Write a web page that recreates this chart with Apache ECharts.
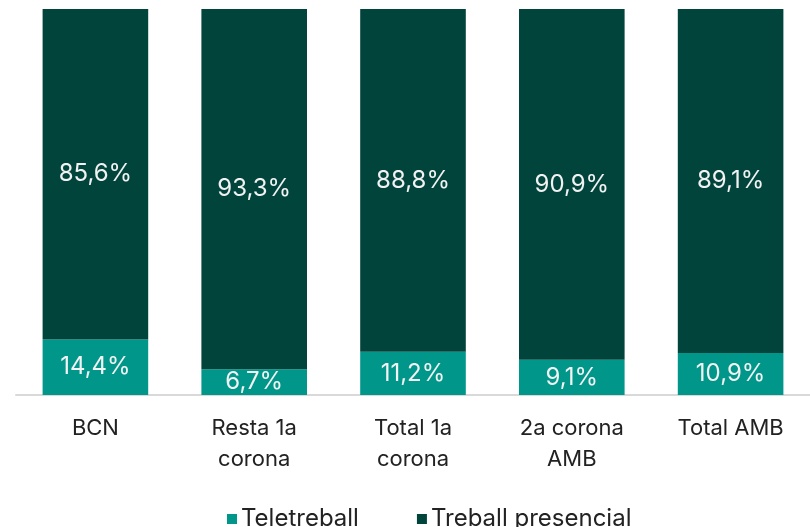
<!DOCTYPE html>
<html>
<head>
<meta charset="utf-8">
<script src="https://cdn.jsdelivr.net/npm/echarts@6/dist/echarts.min.js"></script>
<style>
  html, body { margin: 0; padding: 0; background: #fff; }
  #chart { width: 810px; height: 527px; }
</style>
</head>
<body>
<div id="chart"></div>
<script>
// dades
const categories = ['BCN', 'Resta 1a\ncorona', 'Total 1a\ncorona', '2a corona\nAMB', 'Total AMB']
const teletreball = [14.4, 6.7, 11.2, 9.1, 10.9]
const presencial = [85.6, 93.3, 88.8, 90.9, 89.1]

const FONT = 'Inter, "Noto Sans", sans-serif'
const fmt = p => p.value.toFixed(1).replace('.', ',') + '%'

const chart = echarts.init(document.getElementById('chart'))

const option = {
  animation: false,
  textStyle: { fontFamily: FONT },
  grid: { left: 16, right: -9, top: 9, bottom: 132 },
  legend: {
    bottom: -9,
    left: 222,
    itemWidth: 10,
    itemHeight: 10,
    itemGap: 58,
    icon: 'rect',
    textStyle: { fontSize: 24, color: '#222', fontFamily: FONT, padding: [0, 0, 0, -1] },
    data: ['Teletreball', 'Treball presencial']
  },
  xAxis: {
    type: 'category',
    data: categories,
    axisLine: { lineStyle: { color: '#d9d9d9', width: 2 } },
    axisTick: { show: false },
    axisLabel: { fontSize: 22, color: '#222', margin: 18, lineHeight: 31, fontFamily: FONT }
  },
  yAxis: {
    type: 'value',
    min: 0,
    max: 100,
    show: false
  },
  series: [
    {
      name: 'Teletreball',
      type: 'bar',
      stack: 'total',
      barCategoryGap: '33.5%',
      data: teletreball,
      itemStyle: { color: '#00968a' },
      label: { show: true, position: 'inside', formatter: fmt, color: '#f2f2f2', fontSize: 24, fontFamily: FONT }
    },
    {
      name: 'Treball presencial',
      type: 'bar',
      stack: 'total',
      data: presencial,
      itemStyle: { color: '#00443c' },
      label: { show: true, position: 'inside', formatter: fmt, color: '#f2f2f2', fontSize: 24, fontFamily: FONT }
    }
  ]
}

chart.setOption(option)
</script>
</body>
</html>
